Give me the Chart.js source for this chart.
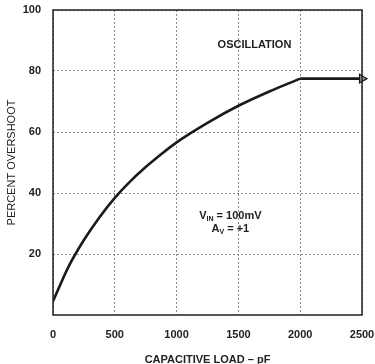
<!DOCTYPE html>
<html>
<head>
<meta charset="utf-8">
<script src="https://cdn.jsdelivr.net/npm/chart.js@4"></script>
<style>
    body { margin: 0; background: #fff; }
    .wrap { width: 375px; height: 364px; }
</style>
</head>
<body>
<div class="wrap"><canvas class="overshoot-chart"></canvas></div>
<script>
// Capacitive load (pF) vs percent overshoot
const loadPf = [0, 125, 250, 375, 500, 625, 750, 875, 1000, 1250, 1500, 1750, 2000];
const overshoot = [4.5, 15.8, 24.6, 32, 38.4, 43.8, 48.5, 52.7, 56.6, 63, 68.6, 73.3, 77.5];

// flat run into the oscillation region
const oscLoad = [2000, 2500];
const oscOvershoot = [77.5, 77.5];

const xTicks = [0, 500, 1000, 1500, 2000, 2500];
const yTicks = [20, 40, 60, 80, 100];

const font = { family: 'Liberation Sans, Arial, sans-serif', size: 11, weight: 'bold' };

// frame around the plot area plus the text notes
const framePlugin = {
    id: 'frame',
    afterDraw(chart) {
        const ctx = chart.ctx;
        const a = chart.chartArea;
        const x = chart.scales.x;
        const y = chart.scales.y;
        ctx.save();
        ctx.strokeStyle = '#222';
        ctx.lineWidth = 1.5;
        ctx.strokeRect(a.left, a.top, a.right - a.left, a.bottom - a.top);

        ctx.fillStyle = '#222';
        ctx.textAlign = 'center';
        ctx.textBaseline = 'middle';
        ctx.font = 'bold 11px Liberation Sans, Arial, sans-serif';
        ctx.fillText('OSCILLATION', x.getPixelForValue(1630), y.getPixelForValue(88.5));

        drawSub(ctx, 'V', 'IN', ' = 100mV', x.getPixelForValue(1435), y.getPixelForValue(32.5));
        drawSub(ctx, 'A', 'V', ' = +1', x.getPixelForValue(1435), y.getPixelForValue(28.3));
        ctx.restore();
    }
};

function drawSub(ctx, main, sub, rest, cx, cy) {
    const big = 'bold 11px Liberation Sans, Arial, sans-serif';
    const small = 'bold 7px Liberation Sans, Arial, sans-serif';
    ctx.font = big;
    const w1 = ctx.measureText(main).width;
    const w3 = ctx.measureText(rest).width;
    ctx.font = small;
    const w2 = ctx.measureText(sub).width;
    let x0 = cx - (w1 + w2 + w3) / 2;
    ctx.textAlign = 'left';
    ctx.font = big;
    ctx.fillText(main, x0, cy);
    ctx.font = small;
    ctx.fillText(sub, x0 + w1, cy + 3);
    ctx.font = big;
    ctx.fillText(rest, x0 + w1 + w2, cy);
}

function createChart() {
    const ctx = document.querySelector('.overshoot-chart').getContext('2d');
    return new Chart(ctx, {
        type: 'line',
        data: {
            datasets: [
                {
                    data: loadPf.map((v, i) => ({ x: v, y: overshoot[i] })),
                    borderColor: '#1a1a1a',
                    borderWidth: 2.6,
                    pointRadius: 0,
                    cubicInterpolationMode: 'monotone',
                    fill: false
                },
                {
                    data: oscLoad.map((v, i) => ({ x: v, y: oscOvershoot[i] })),
                    borderColor: '#1a1a1a',
                    borderWidth: 2.6,
                    pointRadius: [0, 5],
                    pointStyle: 'triangle',
                    rotation: 90,
                    pointBackgroundColor: '#999',
                    pointBorderColor: '#1a1a1a',
                    pointBorderWidth: 1.2,
                    clip: false,
                    fill: false
                }
            ]
        },
        options: {
            responsive: true,
            maintainAspectRatio: false,
            animation: false,
            layout: { padding: { top: 10, right: 13, left: 0, bottom: 0 } },
            plugins: {
                legend: { display: false },
                tooltip: { enabled: false }
            },
            scales: {
                x: {
                    type: 'linear',
                    min: 0,
                    max: 2500,
                    afterBuildTicks: axis => { axis.ticks = xTicks.map(v => ({ value: v })); },
                    afterFit: axis => {
                        axis.height = 49;
                        axis.paddingLeft = 0;
                        axis.paddingRight = 0;
                    },
                    grid: { color: '#8a8a8a', lineWidth: 1, drawTicks: false },
                    border: { display: false, dash: [2, 2] },
                    ticks: { color: '#222', font: font, padding: 13, maxRotation: 0, callback: v => String(v) },
                    title: {
                        display: true,
                        text: 'CAPACITIVE LOAD \u2013 pF',
                        color: '#222',
                        font: font,
                        padding: { top: 6, bottom: -3 }
                    }
                },
                y: {
                    min: 0,
                    max: 100,
                    afterBuildTicks: axis => { axis.ticks = yTicks.map(v => ({ value: v })); },
                    afterFit: axis => {
                        axis.width = 53;
                        axis.paddingTop = 0;
                        axis.paddingBottom = 0;
                    },
                    grid: { color: '#8a8a8a', lineWidth: 1, drawTicks: false },
                    border: { display: false, dash: [2, 2] },
                    ticks: { color: '#222', font: font, padding: 12 },
                    title: {
                        display: true,
                        text: 'PERCENT OVERSHOOT',
                        color: '#222',
                        font: { family: font.family, size: 11 },
                        padding: { top: 5, bottom: 0 }
                    }
                }
            }
        },
        plugins: [framePlugin]
    });
}

createChart();
</script>
</body>
</html>
